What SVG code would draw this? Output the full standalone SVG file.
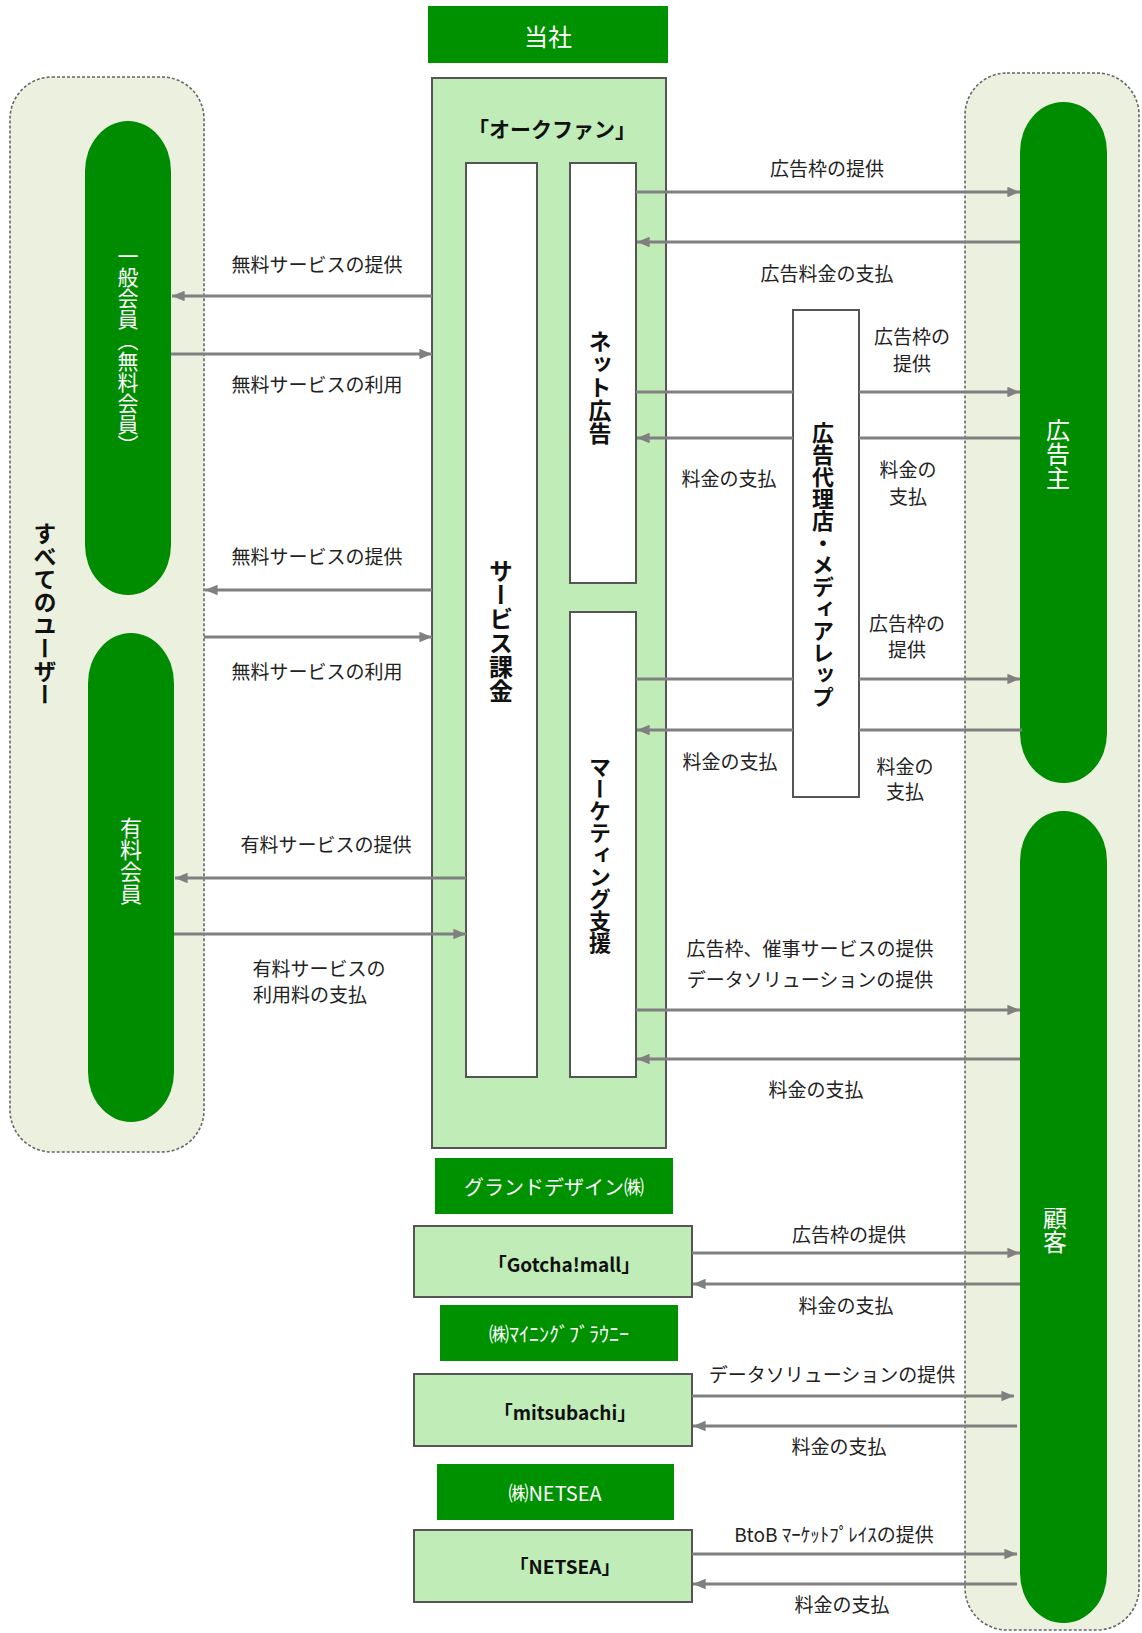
<svg xmlns="http://www.w3.org/2000/svg" width="1142" height="1633" viewBox="0 0 1142 1633">
<style>
text{font-family:"Noto Sans CJK JP","Noto Sans",sans-serif;}
.lbl{font-size:19px;fill:#222;text-anchor:middle;dominant-baseline:central;}
.vt{writing-mode:vertical-rl;text-anchor:middle;}
.vw{fill:#fff;font-size:22px;}
.vb{fill:#111;font-size:23px;font-weight:bold;}
.cont{fill:#ebf1de;stroke:#666;stroke-width:1.6;stroke-dasharray:3 2;}
.pill{fill:#008c00;}
.gbox{fill:#009100;}
.gtxt{fill:#fff;font-size:20px;text-anchor:middle;dominant-baseline:central;}
.lbox{fill:#c0ecb8;stroke:#555;stroke-width:2;}
.wbox{fill:#fff;stroke:#555;stroke-width:2;}
.btxt{fill:#111;font-size:19px;font-weight:bold;text-anchor:middle;dominant-baseline:central;}
.cn line{stroke:#808080;stroke-width:3;}
.ar{marker-end:url(#ah);}
</style>
<defs>
<marker id="ah" viewBox="0 0 12 10" refX="12" refY="5" markerWidth="4.2" markerHeight="3.5" orient="auto" markerUnits="strokeWidth">
<path d="M0,0 L12,5 L0,10 z" fill="#808080"/>
</marker>
</defs>
<rect width="1142" height="1633" fill="#fff"/>

<g id="users">
<rect class="cont" x="10" y="77" width="194" height="1075" rx="42" ry="42"/>
<text class="vt" x="45" y="614" style="fill:#111;font-size:23px;font-weight:bold;">すべてのユーザー</text>
</g>
<g id="general-member">
<rect class="pill" x="85" y="121" width="86" height="474" rx="43" ry="50"/>
<text class="vt vw" x="128" y="351" style="font-size:21px;">一般会員（無料会員）</text>
</g>
<g id="paid-member">
<rect class="pill" x="88" y="633" width="86" height="489" rx="43" ry="50"/>
<text class="vt vw" x="131" y="861">有料会員</text>
</g>

<g id="customers-container">
<rect class="cont" x="965" y="73" width="174" height="1557" rx="42" ry="42"/>
</g>
<g id="advertiser">
<rect class="pill" x="1020" y="102" width="87" height="681" rx="43" ry="50"/>
<text class="vt vw" x="1058" y="454" style="font-size:24px;">広告主</text>
</g>
<g id="client">
<rect class="pill" x="1020" y="811" width="87" height="812" rx="43" ry="50"/>
<text class="vt vw" x="1055" y="1230" style="font-size:24px;">顧客</text>
</g>

<g id="company">
<rect class="gbox" x="428" y="6" width="240" height="57"/>
<text class="gtxt" x="548" y="35" style="font-size:24px;">当社</text>
</g>
<g id="aucfan">
<rect class="lbox" x="432" y="78" width="234" height="1070"/>
<text x="552" y="128" style="font-size:21px;font-weight:bold;fill:#111;text-anchor:middle;dominant-baseline:central;">「オークファン」</text>
</g>
<g id="service-billing">
<rect class="wbox" x="466" y="163" width="71" height="914"/>
<text class="vt vb" x="501" y="631" style="font-size:24px;">サービス課金</text>
</g>
<g id="net-ad">
<rect class="wbox" x="570" y="163" width="66" height="420"/>
<text class="vt vb" x="600" y="387">ネット広告</text>
</g>
<g id="marketing">
<rect class="wbox" x="570" y="612" width="66" height="465"/>
<text class="vt vb" x="600" y="855" style="font-size:22px;">マーケティング支援</text>
</g>
<g id="agency">
<rect class="wbox" x="793" y="310" width="66" height="487"/>
<text class="vt vb" x="823" y="565" style="font-size:22px;">広告代理店・メディアレップ</text>
</g>

<g id="grand-design">
<rect class="gbox" x="435" y="1158" width="238" height="56"/>
<text class="gtxt" x="554" y="1186">グランドデザイン㈱</text>
</g>
<g id="gotcha">
<rect class="lbox" x="414" y="1226" width="278" height="71"/>
<text class="btxt" x="564" y="1263">「Gotcha!mall」</text>
</g>
<g id="mining-brownie">
<rect class="gbox" x="440" y="1305" width="238" height="56"/>
<text class="gtxt" x="559" y="1333">㈱ﾏｲﾆﾝｸﾞﾌﾞﾗｳﾆｰ</text>
</g>
<g id="mitsubachi">
<rect class="lbox" x="414" y="1374" width="278" height="72"/>
<text class="btxt" x="565" y="1411">「mitsubachi」</text>
</g>
<g id="netsea-co">
<rect class="gbox" x="437" y="1464" width="237" height="56"/>
<text class="gtxt" x="555" y="1492">㈱NETSEA</text>
</g>
<g id="netsea">
<rect class="lbox" x="414" y="1530" width="278" height="72"/>
<text class="btxt" x="565" y="1565">「NETSEA」</text>
</g>

<g id="connectors" class="cn">
<line class="ar" x1="432" y1="296" x2="172" y2="296"/>
<line class="ar" x1="171" y1="354" x2="432" y2="354"/>
<line class="ar" x1="432" y1="590" x2="205" y2="590"/>
<line class="ar" x1="204" y1="637" x2="432" y2="637"/>
<line class="ar" x1="466" y1="878" x2="175" y2="878"/>
<line class="ar" x1="174" y1="934" x2="466" y2="934"/>

<line class="ar" x1="636" y1="192" x2="1020" y2="192"/>
<line class="ar" x1="1020" y1="242" x2="637" y2="242"/>
<line x1="636" y1="392" x2="793" y2="392"/>
<line class="ar" x1="859" y1="392" x2="1020" y2="392"/>
<line x1="1020" y1="438" x2="859" y2="438"/>
<line class="ar" x1="793" y1="438" x2="637" y2="438"/>
<line x1="636" y1="679" x2="793" y2="679"/>
<line class="ar" x1="859" y1="679" x2="1020" y2="679"/>
<line x1="1022" y1="730" x2="859" y2="730"/>
<line class="ar" x1="793" y1="730" x2="637" y2="730"/>
<line class="ar" x1="636" y1="1010" x2="1020" y2="1010"/>
<line class="ar" x1="1020" y1="1059" x2="637" y2="1059"/>

<line class="ar" x1="692" y1="1253" x2="1020" y2="1253"/>
<line class="ar" x1="1020" y1="1284" x2="693" y2="1284"/>
<line class="ar" x1="692" y1="1396" x2="1014" y2="1396"/>
<line class="ar" x1="1017" y1="1426" x2="693" y2="1426"/>
<line class="ar" x1="692" y1="1554" x2="1017" y2="1554"/>
<line class="ar" x1="1017" y1="1584" x2="693" y2="1584"/>
</g>

<g id="labels">
<text class="lbl" x="317" y="263">無料サービスの提供</text>
<text class="lbl" x="317" y="383">無料サービスの利用</text>
<text class="lbl" x="317" y="555">無料サービスの提供</text>
<text class="lbl" x="317" y="670">無料サービスの利用</text>
<text class="lbl" x="326" y="843">有料サービスの提供</text>
<text class="lbl" x="319" y="967">有料サービスの</text>
<text class="lbl" x="310" y="993">利用料の支払</text>

<text class="lbl" x="827" y="167">広告枠の提供</text>
<text class="lbl" x="827" y="272">広告料金の支払</text>
<text class="lbl" x="912" y="335">広告枠の</text>
<text class="lbl" x="912" y="362">提供</text>
<text class="lbl" x="729" y="477">料金の支払</text>
<text class="lbl" x="908" y="468">料金の</text>
<text class="lbl" x="908" y="495">支払</text>
<text class="lbl" x="907" y="622">広告枠の</text>
<text class="lbl" x="907" y="648">提供</text>
<text class="lbl" x="730" y="760">料金の支払</text>
<text class="lbl" x="905" y="765">料金の</text>
<text class="lbl" x="905" y="790">支払</text>
<text class="lbl" x="810" y="947">広告枠、催事サービスの提供</text>
<text class="lbl" x="810" y="978">データソリューションの提供</text>
<text class="lbl" x="816" y="1088">料金の支払</text>

<text class="lbl" x="849" y="1233">広告枠の提供</text>
<text class="lbl" x="846" y="1304">料金の支払</text>
<text class="lbl" x="832" y="1373">データソリューションの提供</text>
<text class="lbl" x="839" y="1445">料金の支払</text>
<text class="lbl" x="834" y="1533">BtoB ﾏｰｹｯﾄﾌﾟﾚｲｽの提供</text>
<text class="lbl" x="842" y="1603">料金の支払</text>
</g>
</svg>
